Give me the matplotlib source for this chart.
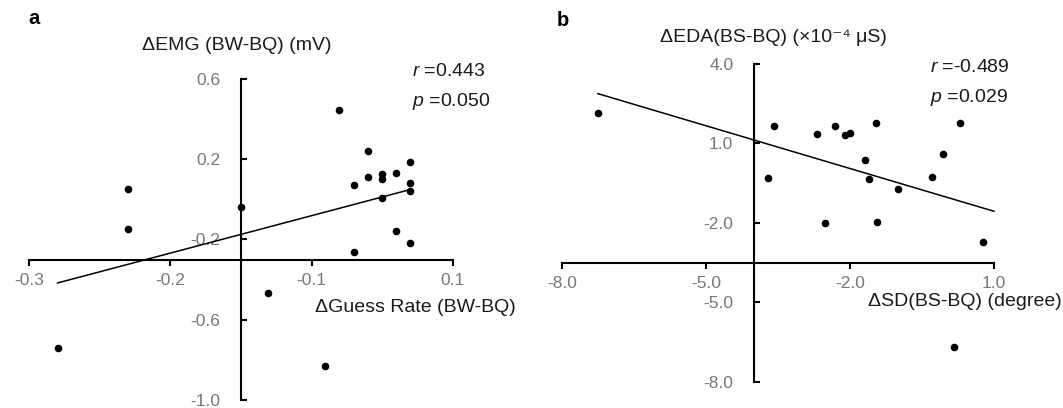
import matplotlib
matplotlib.use("Agg")
import matplotlib.pyplot as plt
import numpy as np

plt.rcParams['font.family'] = ['Liberation Sans', 'DejaVu Sans']
plt.rcParams['mathtext.fontset'] = 'custom'
plt.rcParams['mathtext.rm'] = 'Liberation Sans'
plt.rcParams['mathtext.it'] = 'Liberation Sans:italic'

# panel a: guess rate vs EMG
guess_rate = [-0.007, 0.020, 0.060, 0.007, 0.020, 0.033, 0.033, 0.046, 0.060, 0.060,
              0.033, 0.046, 0.060, 0.007, -0.207, -0.207, -0.100, -0.074, -0.273, -0.021]
emg = [0.444, 0.240, 0.186, 0.070, 0.113, 0.128, 0.101, 0.131, 0.083, 0.042,
       0.008, -0.156, -0.218, -0.262, 0.050, -0.146, -0.040, -0.465, -0.739, -0.831]
a_xticks = [-0.3, -0.1667, -0.0333, 0.1]
a_xlabels = ['-0.3', '-0.2', '-0.1', '0.1']
a_yticks = [0.6, 0.2, -0.2, -0.6, -1.0]
a_ylabels = ['0.6', '0.2', '-0.2', '-0.6', '-1.0']

# panel b: SD vs EDA
sd_diff = [-7.26, -3.58, -3.72, -2.68, -2.31, -2.10, -2.01, -1.45, 0.30,
           -0.07, -1.68, -1.61, -0.30, -1.00, -2.53, -1.44, 0.78, 0.17]
eda = [2.16, 1.66, -0.30, 1.34, 1.66, 1.31, 1.41, 1.78, 1.78,
       0.59, 0.39, -0.36, -0.27, -0.73, -2.00, -1.96, -2.74, -6.69]
b_xticks = [-8.0, -5.0, -2.0, 1.0]
b_yticks = [4.0, 1.0, -2.0, -5.0, -8.0]

W, H = 1063, 408
fig = plt.figure(figsize=(W / 100, H / 100), dpi=100)

TICK_GRAY = '#777777'
TXT = '#1a1a1a'


def px_axes(x0, x1, y0, y1):
    # pixel box (top-left origin) -> figure axes
    return fig.add_axes([x0 / W, 1 - y1 / H, (x1 - x0) / W, (y1 - y0) / H])


def style(ax, xcross, ycross, xticks, xlabels, yticks, ylabels, xlim, ylim):
    ax.set_xlim(*xlim)
    ax.set_ylim(*ylim)
    ax.patch.set_alpha(0)
    for s in ['top', 'right']:
        ax.spines[s].set_visible(False)
    ax.spines['left'].set_position(('data', xcross))
    ax.spines['bottom'].set_position(('data', ycross))
    for s in ['left', 'bottom']:
        ax.spines[s].set_linewidth(1.5)
        ax.spines[s].set_color('black')
    ax.set_xticks(xticks)
    ax.set_xticklabels(xlabels)
    ax.set_yticks(yticks)
    ax.set_yticklabels(ylabels)
    ax.tick_params(axis='x', direction='out', length=4, width=1.5, pad=6,
                   labelsize=12.5, labelcolor=TICK_GRAY)
    ax.tick_params(axis='y', direction='in', length=4, width=1.5, pad=15,
                   labelsize=12.5, labelcolor=TICK_GRAY)


def fit_line(ax, x, y, x_end=None):
    k, b = np.polyfit(x, y, 1)
    xs = np.array([min(x), max(x) if x_end is None else x_end])
    ax.plot(xs, k * xs + b, color='black', lw=1.1, clip_on=False)


# ---- panel a
ax1 = px_axes(29, 452.7, 79, 400)
style(ax1, -0.1, -0.3, a_xticks, a_xlabels, a_yticks, a_ylabels, (-0.3, 0.1), (-1.0, 0.6))
ax1.scatter(guess_rate, emg, s=20, color='black', zorder=3, clip_on=False)
fit_line(ax1, guess_rate, emg)

fig.text(28 / W, 1 - 19 / H, 'a', fontsize=14.5, fontweight='bold', va='center', color='black')
fig.text(237 / W, 1 - 45 / H, 'ΔEMG (BW-BQ) (mV)', fontsize=14, ha='center', va='center', color=TXT)
fig.text(315 / W, 1 - 308 / H, 'ΔGuess Rate (BW-BQ)', fontsize=14, ha='left', va='center', color=TXT)
fig.text(412 / W, 1 - 72 / H, r'$\it{r}$ =0.443', fontsize=14, ha='left', va='center', color=TXT)
fig.text(412 / W, 1 - 101 / H, r'$\it{p}$ =0.050', fontsize=14, ha='left', va='center', color=TXT)

# ---- panel b
ax2 = px_axes(562.3, 994, 64, 381.7)
style(ax2, -4.0, -3.5, b_xticks, [f'{v:.1f}' for v in b_xticks],
      b_yticks, [f'{v:.1f}' for v in b_yticks], (-8.0, 1.0), (-8.0, 4.0))
ax2.scatter(sd_diff, eda, s=20, color='black', zorder=3, clip_on=False)
fit_line(ax2, sd_diff, eda, x_end=1.0)

fig.text(557 / W, 1 - 20 / H, 'b', fontsize=14.5, fontweight='bold', va='center', color='black')
fig.text(773 / W, 1 - 37 / H, 'ΔEDA(BS-BQ) (×10⁻⁴ μS)', fontsize=14, ha='center', va='center', color=TXT)
fig.text(868 / W, 1 - 301 / H, 'ΔSD(BS-BQ) (degree)', fontsize=14, ha='left', va='center', color=TXT)
fig.text(930 / W, 1 - 67 / H, r'$\it{r}$ =-0.489', fontsize=14, ha='left', va='center', color=TXT)
fig.text(930 / W, 1 - 97 / H, r'$\it{p}$ =0.029', fontsize=14, ha='left', va='center', color=TXT)

fig.savefig('out.png', dpi=100)
